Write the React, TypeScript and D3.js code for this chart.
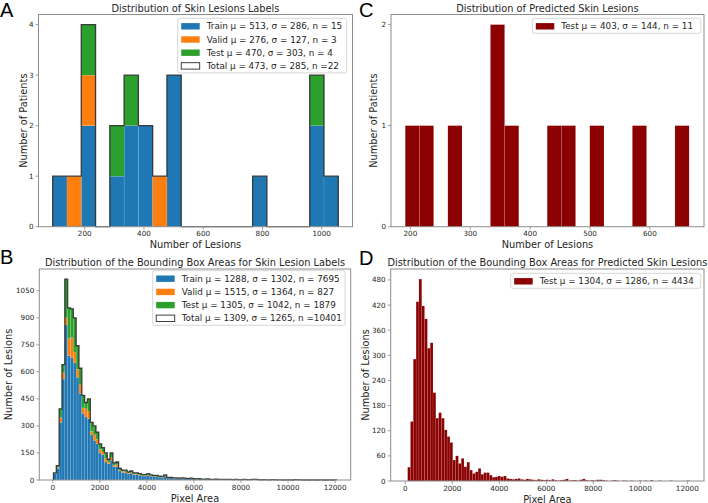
import * as d3 from "d3";

const W = 708;
const H = 503;

const BLUE = "#1f77b4";
const ORANGE = "#ff7f0e";
const GREEN = "#2ca02c";
const DARKRED = "#8b0000";

// A: lesions per patient, labels (20 bins)
const aBinStart = 92;
const aBinWidth = 48.2;
const aTrain = [1, 0, 2, 0, 1, 2, 2, 0, 3, 0, 0, 0, 0, 0, 1, 0, 0, 0, 2, 1];
const aValid = [0, 1, 1, 0, 0, 0, 0, 1, 0, 0, 0, 0, 0, 0, 0, 0, 0, 0, 0, 0];
const aTest = [0, 0, 1, 0, 1, 1, 0, 0, 0, 0, 0, 0, 0, 0, 0, 0, 0, 0, 1, 0];
const aXTicks = [200, 400, 600, 800, 1000];
const aYTicks = [0, 1, 2, 3, 4];
const aLegend = [
  "Train μ = 513, σ = 286, n = 15",
  "Valid μ = 276, σ = 127, n = 3",
  "Test μ = 470, σ = 303, n = 4",
  "Total μ = 473, σ = 285, n =22",
];

// C: lesions per patient, predicted (20 bins)
const cBinStart = 191.5;
const cBinWidth = 23.7;
const cTest = [1, 1, 0, 1, 0, 0, 2, 1, 0, 0, 1, 1, 0, 1, 0, 0, 1, 0, 0, 1];
const cXTicks = [200, 300, 400, 500, 600];
const cYTicks = [0, 1, 2];
const cLegend = ["Test μ = 403, σ = 144, n = 11"];

// B: bounding box areas, labels (100 bins)
const bBinStart = 30;
const bBinWidth = 120.3;
const bTrain = [
  35, 65, 320, 560, 860, 690, 680, 650, 570, 480,
  370, 350, 340, 250, 220, 200, 150, 140, 100, 90,
  110, 75, 75, 50, 42, 40, 34, 38, 30, 30,
  26, 22, 22, 26, 21, 19, 19, 16, 15, 20,
  11, 11, 9, 9, 8, 9, 8, 6, 7, 7,
  4, 5, 4, 4, 5, 3, 3, 4, 3, 2,
  3, 3, 2, 1, 3, 2, 1, 2, 2, 1,
  3, 3, 2, 1, 2, 1, 1, 2, 1, 1,
  1, 0, 1, 1, 0, 2, 1, 1, 0, 1,
  0, 1, 0, 0, 1, 0, 0, 1, 0, 1,
];
const bValid = [
  2, 5, 25, 35, 40, 95, 110, 60, 45, 50,
  30, 45, 40, 20, 30, 25, 20, 15, 20, 10,
  15, 8, 10, 5, 5, 6, 4, 5, 4, 4,
  3, 3, 3, 4, 3, 2, 2, 2, 2, 3,
  1, 1, 1, 1, 1, 1, 1, 1, 1, 0,
  1, 1, 0, 1, 0, 0, 1, 0, 0, 1,
  0, 0, 1, 0, 0, 0, 0, 1, 0, 0,
  0, 0, 0, 0, 0, 0, 0, 0, 0, 0,
  0, 0, 0, 0, 0, 0, 0, 0, 0, 0,
  0, 0, 0, 0, 0, 0, 0, 0, 0, 0,
];
const bTest = [
  3, 10, 50, 45, 215, 170, 160, 190, 130, 90,
  70, 35, 70, 50, 50, 40, 30, 25, 30, 15,
  25, 12, 15, 10, 8, 9, 7, 7, 6, 6,
  6, 5, 5, 5, 4, 4, 4, 4, 3, 5,
  3, 2, 2, 2, 1, 2, 1, 1, 2, 1,
  1, 1, 1, 0, 1, 1, 0, 1, 0, 0,
  1, 0, 0, 1, 0, 0, 1, 0, 0, 1,
  0, 1, 0, 0, 0, 0, 0, 0, 0, 0,
  0, 0, 0, 0, 0, 0, 0, 0, 0, 0,
  0, 0, 0, 0, 0, 0, 0, 0, 0, 0,
];
const bXTicks = [0, 2000, 4000, 6000, 8000, 10000, 12000];
const bYTicks = [0, 150, 300, 450, 600, 750, 900, 1050];
const bLegend = [
  "Train μ = 1288, σ = 1302, n = 7695",
  "Valid μ = 1515, σ = 1364, n = 827",
  "Test μ = 1305, σ = 1042, n = 1879",
  "Total μ = 1309, σ = 1265, n =10401",
];

// D: bounding box areas, predicted (100 bins)
const dBinStart = 100;
const dBinWidth = 120;
const dTest = [
  33, 142, 291, 428, 482, 418, 387, 317, 330, 211,
  150, 163, 150, 122, 106, 92, 50, 60, 42, 54,
  34, 45, 26, 18, 22, 30, 16, 20, 20, 14,
  9, 10, 12, 10, 12, 6, 5, 4, 5, 6,
  4, 3, 5, 4, 3, 2, 4, 3, 2, 3,
  2, 4, 2, 1, 2, 3, 5, 1, 2, 2,
  1, 3, 5, 2, 1, 2, 1, 3, 3, 2,
  1, 0, 1, 2, 1, 0, 1, 1, 0, 1,
  0, 0, 1, 0, 1, 0, 2, 0, 0, 1,
  0, 0, 0, 1, 0, 0, 0, 0, 0, 1,
];
const dXTicks = [0, 2000, 4000, 6000, 8000, 10000, 12000];
const dYTicks = [0, 60, 120, 180, 240, 300, 360, 420, 480];
const dLegend = ["Test μ = 1304, σ = 1286, n = 4434"];

const FONT = "DejaVu Sans, sans-serif";
const SPINE = "#8c8c8c";
const TEXT = "#262626";

type Series = { counts: number[]; color: string };
type LegendItem = { label: string; color: string | null };

type PanelProps = {
  id: string;
  left: number;
  right: number;
  top: number;
  bottom: number;
  xDomain: [number, number];
  binStart: number;
  binWidth: number;
  series: Series[];
  outline: boolean;
  xTicks: number[];
  yTicks: number[];
  title: string;
  titleY: number;
  xLabel: string;
  yLabel: string;
  yLabelX: number;
  letter: string;
  letterX: number;
  letterY: number;
  legend: LegendItem[];
  legendX: number;
  legendY: number;
  legendW: number;
};

function Panel(p: PanelProps) {
  const n = p.series[0].counts.length;
  const totals = d3.range(n).map((i) => d3.sum(p.series, (s) => s.counts[i]));
  const yMax = (d3.max(totals) ?? 1) * 1.05;
  const x = d3.scaleLinear().domain(p.xDomain).range([p.left, p.right]);
  const y = d3.scaleLinear().domain([0, yMax]).range([p.bottom, p.top]);
  const edge = (i: number) => x(p.binStart + i * p.binWidth);

  // stacked bars
  const base = new Array(n).fill(0);
  const rects: JSX.Element[] = [];
  p.series.forEach((s, si) => {
    s.counts.forEach((c, i) => {
      if (c > 0) {
        rects.push(
          <rect
            key={`${si}-${i}`}
            x={edge(i)}
            width={edge(i + 1) - edge(i)}
            y={y(base[i] + c)}
            height={y(base[i]) - y(base[i] + c)}
            fill={s.color}
            stroke="#ffffff"
            strokeOpacity={0.25}
            strokeWidth={0.4}
          />
        );
      }
      base[i] += c;
    });
  });

  // step outline of the total
  let outlinePath: string | null = null;
  if (p.outline) {
    const pts: [number, number][] = [[edge(0), y(0)]];
    totals.forEach((t, i) => {
      pts.push([edge(i), y(t)]);
      pts.push([edge(i + 1), y(t)]);
    });
    pts.push([edge(n), y(0)]);
    outlinePath = d3.line()(pts);
  }

  const rowH = 13.2;
  const legendH = 8 + (p.legend.length - 1) * rowH + 7;
  const midX = (p.left + p.right) / 2;
  const midY = (p.top + p.bottom) / 2;

  return (
    <g>
      {rects}
      {outlinePath && (
        <path d={outlinePath} fill="none" stroke="#2b2b2b" strokeOpacity={0.9} strokeWidth={1.3} />
      )}
      <rect
        x={p.left}
        y={p.top}
        width={p.right - p.left}
        height={p.bottom - p.top}
        fill="none"
        stroke={SPINE}
        strokeWidth={1}
      />
      {/* x axis */}
      {p.xTicks.map((t) => (
        <g key={`xt${t}`}>
          <line x1={x(t)} x2={x(t)} y1={p.bottom} y2={p.bottom + 3} stroke={SPINE} strokeWidth={0.8} />
          <text x={x(t)} y={p.bottom + 9.5} fontSize={7.2} textAnchor="middle" fill={TEXT}>
            {t}
          </text>
        </g>
      ))}
      {/* y axis */}
      {p.yTicks.map((t) => (
        <g key={`yt${t}`}>
          <line x1={p.left - 3} x2={p.left} y1={y(t)} y2={y(t)} stroke={SPINE} strokeWidth={0.8} />
          <text x={p.left - 5} y={y(t)} dy="0.35em" fontSize={7.2} textAnchor="end" fill={TEXT}>
            {t}
          </text>
        </g>
      ))}
      <text x={midX} y={p.bottom + 21.5} fontSize={9.8} textAnchor="middle" fill={TEXT}>
        {p.xLabel}
      </text>
      <text
        transform={`translate(${p.yLabelX},${midY}) rotate(-90)`}
        dy="0.35em"
        fontSize={9.8}
        textAnchor="middle"
        fill={TEXT}
      >
        {p.yLabel}
      </text>
      <text x={midX} y={p.titleY} fontSize={9.8} textAnchor="middle" fill={TEXT}>
        {p.title}
      </text>
      <text
        x={p.letterX}
        y={p.letterY}
        fontSize={20}
        fontFamily="Liberation Sans, Arial, sans-serif"
        fill="#000"
      >
        {p.letter}
      </text>
      {/* legend */}
      <rect
        x={p.legendX}
        y={p.legendY}
        width={p.legendW}
        height={legendH}
        rx={2}
        fill="#fff"
        fillOpacity={0.8}
        stroke="#cccccc"
        strokeWidth={0.8}
      />
      {p.legend.map((item, i) => {
        const cy = p.legendY + 8 + i * rowH;
        return (
          <g key={`lg${i}`}>
            <rect
              x={p.legendX + 3.5}
              y={cy - 3.2}
              width={18.5}
              height={6.4}
              fill={item.color ?? "#fff"}
              stroke={item.color ? "none" : "#2b2b2b"}
              strokeWidth={0.9}
            />
            <text x={p.legendX + 29} y={cy} dy="0.35em" fontSize={8.8} fill={TEXT}>
              {item.label}
            </text>
          </g>
        );
      })}
    </g>
  );
}

export default function App() {
  return (
    <svg
      width={W}
      height={H}
      viewBox={`0 0 ${W} ${H}`}
      style={{ position: "absolute", left: 0, top: 0, background: "#fff" }}
      fontFamily={FONT}
    >
      <Panel
        id="A"
        left={38.5}
        right={352.5}
        top={14.5}
        bottom={226.7}
        xDomain={[44, 1104]}
        binStart={aBinStart}
        binWidth={aBinWidth}
        series={[
          { counts: aTrain, color: BLUE },
          { counts: aValid, color: ORANGE },
          { counts: aTest, color: GREEN },
        ]}
        outline={true}
        xTicks={aXTicks}
        yTicks={aYTicks}
        title="Distribution of Skin Lesions Labels"
        titleY={12}
        xLabel="Number of Lesions"
        yLabel="Number of Patients"
        yLabelX={23.3}
        letter="A"
        letterX={0}
        letterY={17}
        legend={[
          { label: aLegend[0], color: BLUE },
          { label: aLegend[1], color: ORANGE },
          { label: aLegend[2], color: GREEN },
          { label: aLegend[3], color: null },
        ]}
        legendX={177.7}
        legendY={18.3}
        legendW={169}
      />
      <Panel
        id="C"
        left={391}
        right={704}
        top={14.5}
        bottom={226.7}
        xDomain={[167.7, 690.3]}
        binStart={cBinStart}
        binWidth={cBinWidth}
        series={[{ counts: cTest, color: DARKRED }]}
        outline={false}
        xTicks={cXTicks}
        yTicks={cYTicks}
        title="Distribution of Predicted Skin Lesions"
        titleY={12}
        xLabel="Number of Lesions"
        yLabel="Number of Patients"
        yLabelX={374}
        letter="C"
        letterX={359}
        letterY={17}
        legend={[{ label: cLegend[0], color: DARKRED }]}
        legendX={532.3}
        legendY={18.3}
        legendW={168.4}
      />
      <Panel
        id="B"
        left={39.3}
        right={350.7}
        top={269}
        bottom={480}
        xDomain={[-573, 12663]}
        binStart={bBinStart}
        binWidth={bBinWidth}
        series={[
          { counts: bTrain, color: BLUE },
          { counts: bValid, color: ORANGE },
          { counts: bTest, color: GREEN },
        ]}
        outline={true}
        xTicks={bXTicks}
        yTicks={bYTicks}
        title="Distribution of the Bounding Box Areas for Skin Lesion Labels"
        titleY={266}
        xLabel="Pixel Area"
        yLabel="Number of Lesions"
        yLabelX={8.3}
        letter="B"
        letterX={0}
        letterY={263.5}
        legend={[
          { label: bLegend[0], color: BLUE },
          { label: bLegend[1], color: ORANGE },
          { label: bLegend[2], color: GREEN },
          { label: bLegend[3], color: null },
        ]}
        legendX={152.7}
        legendY={270.7}
        legendW={192.3}
      />
      <Panel
        id="D"
        left={390.7}
        right={704}
        top={269}
        bottom={481}
        xDomain={[-621, 12711]}
        binStart={dBinStart}
        binWidth={dBinWidth}
        series={[{ counts: dTest, color: DARKRED }]}
        outline={false}
        xTicks={dXTicks}
        yTicks={dYTicks}
        title="Distribution of the Bounding Box Areas for Predicted Skin Lesions"
        titleY={266}
        xLabel="Pixel Area"
        yLabel="Number of Lesions"
        yLabelX={365.7}
        letter="D"
        letterX={359}
        letterY={265}
        legend={[{ label: dLegend[0], color: DARKRED }]}
        legendX={510.7}
        legendY={273.3}
        legendW={190}
      />
    </svg>
  );
}
